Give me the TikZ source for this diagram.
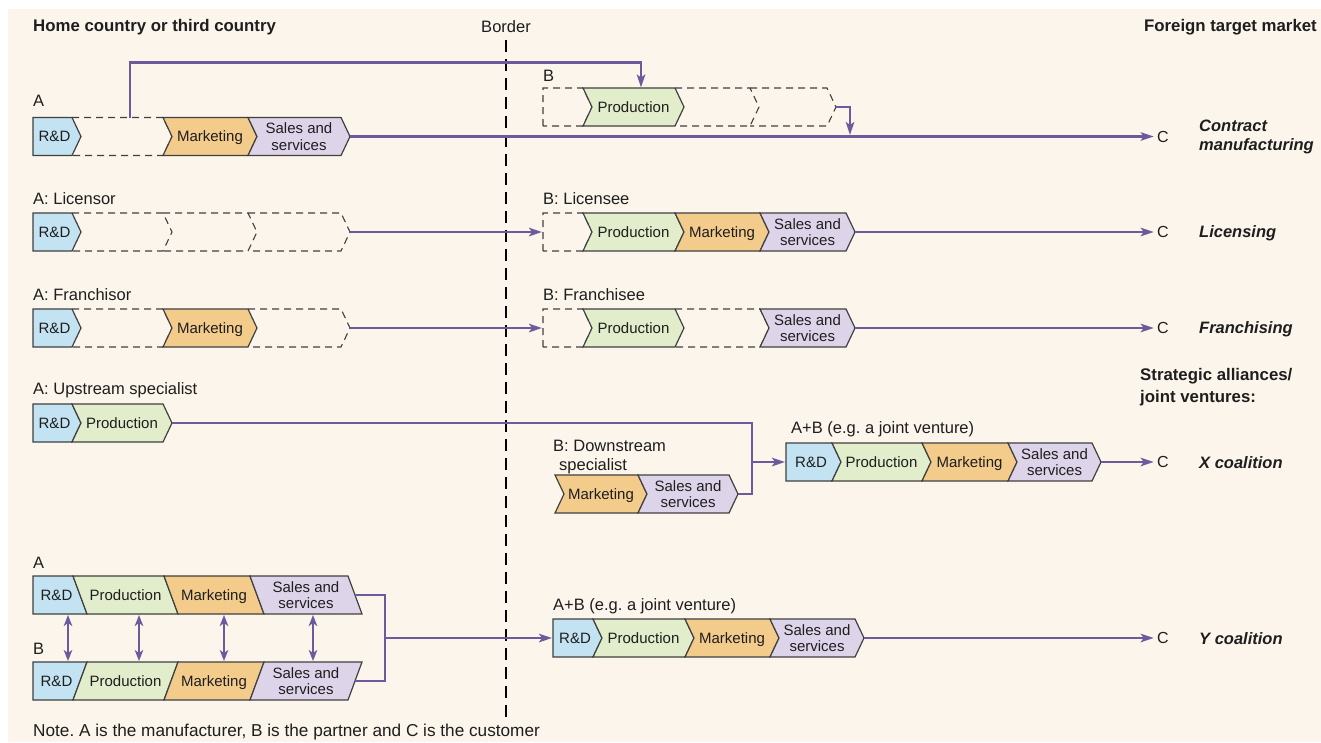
\documentclass[tikz,border=0pt]{standalone}
\usepackage{fontspec}
\setmainfont{Liberation Sans}
\usetikzlibrary{arrows.meta}
\frenchspacing

\definecolor{bgcream}{HTML}{FCF5EB}
\definecolor{rdblue}{HTML}{C3E3F2}
\definecolor{prodgreen}{HTML}{E2EECB}
\definecolor{mktorange}{HTML}{F3CC8C}
\definecolor{salepurple}{HTML}{DDD4EA}
\definecolor{flowpurple}{HTML}{6C5A9C}
\definecolor{edgegrey}{HTML}{404040}
\definecolor{inkgrey}{HTML}{1E1E1E}

\tikzset{
  segbox/.style={draw=edgegrey, line width=1.2pt, line join=miter},
  emptyseg/.style={draw=edgegrey, line width=1.1pt, dash pattern=on 7pt off 5pt},
  rd/.style={fill=rdblue},
  prod/.style={fill=prodgreen},
  mkt/.style={fill=mktorange},
  sale/.style={fill=salepurple},
  segtext/.style={font=\fontsize{15}{16.5}\selectfont, text=inkgrey, align=center, inner sep=0pt, text depth=0pt},
  lbl/.style={font=\fontsize{16.5}{19}\selectfont, text=inkgrey, anchor=base west, inner sep=0pt, align=left},
  head/.style={font=\fontsize{16.8}{22}\selectfont\bfseries, text=inkgrey, inner sep=0pt, align=left},
  mode/.style={font=\fontsize{16.5}{19.5}\selectfont\bfseries\itshape, text=inkgrey, anchor=west, inner sep=0pt, align=left},
  cust/.style={font=\fontsize{16}{19}\selectfont, text=inkgrey},
  flow/.style={draw=flowpurple, line width=2.3pt},
  tip/.style={-{Stealth[length=13pt,width=8.5pt,inset=3pt]}},
  twotip/.style={{Stealth[length=11pt,width=8.5pt,inset=3pt]}-{Stealth[length=11pt,width=8.5pt,inset=3pt]}},
  borderline/.style={draw=black, line width=2.4pt, dash pattern=on 12pt off 7pt},
}

% filled value-chain step: name, colour style, left x, right x, centre y,
% straight left edge (1) or notched (0), caption
\newcommand\fillseg[7]{%
  \ifnum#6=1
    \path[segbox,#2] (#3,#5-19) -- (#4,#5-19) -- (#4+9,#5) -- (#4,#5+19) -- (#3,#5+19) -- cycle;
    \node[segtext] (#1) at ({(#3+#4)/2+2},#5) {#7};
  \else
    \path[segbox,#2] (#3,#5-19) -- (#4,#5-19) -- (#4+9,#5) -- (#4,#5+19) -- (#3,#5+19) -- (#3+9,#5) -- cycle;
    \node[segtext] (#1) at ({(#3+#4+9)/2},#5) {#7};
  \fi}

% empty (dashed) step: left x, right x, centre y, closed left edge (1) or open (0)
\newcommand\blankseg[4]{%
  \ifnum#4=1
    \draw[emptyseg] (#1,#3+19) -- (#1,#3-19) -- (#2,#3-19) -- (#2+9,#3) -- (#2,#3+19) -- cycle;
  \else
    \draw[emptyseg] (#1,#3-19) -- (#2,#3-19) -- (#2+9,#3) -- (#2,#3+19) -- (#1,#3+19);
  \fi}

% slanted step of the Y coalition chains: name, colour, top-left x, bottom-left x,
% top-right x, bottom-right x, centre y, caption
\newcommand\slantseg[8]{%
  \path[segbox,#2] (#3,#7-19) -- (#5,#7-19) -- (#6,#7+19) -- (#4,#7+19) -- cycle;
  \node[segtext] (#1) at ({(#3+#4+#5+#6)/4},#7) {#8};}

\begin{document}
\begin{tikzpicture}[x=1pt,y=-1pt]
\useasboundingbox (0,0) rectangle (1321,742);
\fill[white] (0,0) rectangle (1321,742);
\fill[bgcream] (8,9) rectangle (1321,742);

% headings and the border
\node[head, anchor=west] (hhome) at (33,27) {Home country or third country};
\node[head, anchor=east] (hforeign) at (1317,27) {Foreign target market};
\node[font=\fontsize{16.5}{19}\selectfont, text=inkgrey, inner sep=0pt] (hborder) at (506,27) {Border};
\coordinate (bordertop) at (506,40);
\coordinate (borderfoot) at (506,723);
\draw[borderline] (bordertop) -- (borderfoot);

% ---------- contract manufacturing ----------
\node[lbl] (la1) at (33,106) {A};
\blankseg{72}{163}{136.5}{0}
\fillseg{a1rd}{rd}{33}{72}{136.5}{1}{R\&D}
\fillseg{a1mkt}{mkt}{163}{248}{136.5}{0}{Marketing}
\fillseg{a1sale}{sale}{248}{341}{136.5}{0}{Sales and\\services}
\coordinate (a1out) at (350,136.5);
\coordinate (a1up) at (130,117.5);

\node[lbl] (lb1) at (543,81) {B};
\blankseg{543}{583}{107}{1}
\blankseg{675}{750}{107}{0}
\blankseg{750}{827}{107}{0}
\fillseg{b1prod}{prod}{583}{675}{107}{0}{Production}
\coordinate (b1in) at (641,87.5);
\coordinate (b1out) at (836,107);
\coordinate (b1drop) at (850,135);

\node[cust] (c1) at (1163,136.5) {C};
\node[mode] (m1) at (1199,137) {Contract\\manufacturing};
\draw[flow,tip] (a1out) -- (c1);
\draw[flow,tip] (a1up) -- ++(0,-55) -| (b1in);
\draw[flow,tip] (b1out) -| (b1drop);

% ---------- licensing ----------
\node[lbl] (la2) at (33,204) {A: Licensor};
\blankseg{72}{163}{232}{0}
\blankseg{163}{248}{232}{0}
\blankseg{248}{341}{232}{0}
\fillseg{a2rd}{rd}{33}{72}{232}{1}{R\&D}
\coordinate (a2out) at (350,232);

\node[lbl] (lb2) at (543,204) {B: Licensee};
\blankseg{543}{583}{232}{1}
\fillseg{b2prod}{prod}{583}{675}{232}{0}{Production}
\fillseg{b2mkt}{mkt}{675}{760}{232}{0}{Marketing}
\fillseg{b2sale}{sale}{760}{846}{232}{0}{Sales and\\services}
\coordinate (b2in) at (542,232);
\coordinate (b2out) at (855,232);

\node[cust] (c2) at (1163,232) {C};
\node[mode] (m2) at (1199,233.5) {Licensing};
\draw[flow,tip] (a2out) -- (b2in);
\draw[flow,tip] (b2out) -- (c2);

% ---------- franchising ----------
\node[lbl] (la3) at (33,300) {A: Franchisor};
\blankseg{72}{163}{328}{0}
\blankseg{248}{341}{328}{0}
\fillseg{a3rd}{rd}{33}{72}{328}{1}{R\&D}
\fillseg{a3mkt}{mkt}{163}{248}{328}{0}{Marketing}
\coordinate (a3out) at (350,328);

\node[lbl] (lb3) at (543,300) {B: Franchisee};
\blankseg{543}{583}{328}{1}
\blankseg{675}{760}{328}{0}
\fillseg{b3prod}{prod}{583}{675}{328}{0}{Production}
\fillseg{b3sale}{sale}{760}{846}{328}{0}{Sales and\\services}
\coordinate (b3in) at (542,328);
\coordinate (b3out) at (855,328);

\node[cust] (c3) at (1163,328) {C};
\node[mode] (m3) at (1199,329.5) {Franchising};
\draw[flow,tip] (a3out) -- (b3in);
\draw[flow,tip] (b3out) -- (c3);

% ---------- X coalition ----------
\node[head, anchor=north west] (hsa) at (1140,368.5) {Strategic alliances/\\joint ventures:};

\node[lbl] (la4) at (33,394) {A: Upstream specialist};
\fillseg{a4rd}{rd}{33}{72}{423}{1}{R\&D}
\fillseg{a4prod}{prod}{72}{163}{423}{0}{Production}
\coordinate (a4out) at (172,423);

\node[lbl, anchor=north west] (lbd) at (553,440) {B: Downstream\\\hspace*{6pt}specialist};
\fillseg{bdmkt}{mkt}{555}{638}{494}{0}{Marketing}
\fillseg{bdsale}{sale}{638}{729}{494}{0}{Sales and\\services}
\coordinate (bdout) at (738,494);
\coordinate (xjoin) at (752,462);

\node[lbl] (lxab) at (791,433) {A+B (e.g. a joint venture)};
\fillseg{xrd}{rd}{786}{832}{462}{1}{R\&D}
\fillseg{xprod}{prod}{832}{922}{462}{0}{Production}
\fillseg{xmkt}{mkt}{922}{1008}{462}{0}{Marketing}
\fillseg{xsale}{sale}{1008}{1092}{462}{0}{Sales and\\services}
\coordinate (xin) at (785,462);
\coordinate (xout) at (1101,462);

\draw[flow] (a4out) -| (bdout -| xjoin) -- (bdout);
\draw[flow,tip] (xjoin) -- (xin);
\node[cust] (cx) at (1163,462) {C};
\node[mode] (mx) at (1199,463) {X coalition};
\draw[flow,tip] (xout) -- (cx);

% ---------- Y coalition ----------
\node[lbl] (lya) at (33,568) {A};
\slantseg{yard}{rd}{33}{33}{73}{87}{595}{R\&D}
\slantseg{yaprod}{prod}{73}{87}{164}{178}{595}{Production}
\slantseg{yamkt}{mkt}{164}{178}{250}{264}{595}{Marketing}
\slantseg{yasale}{sale}{250}{264}{348}{362}{595}{Sales and\\services}

\node[lbl] (lyb) at (33,654) {B};
\slantseg{ybrd}{rd}{33}{33}{87}{73}{681}{R\&D}
\slantseg{ybprod}{prod}{87}{73}{178}{164}{681}{Production}
\slantseg{ybmkt}{mkt}{178}{164}{264}{250}{681}{Marketing}
\slantseg{ybsale}{sale}{264}{250}{362}{348}{681}{Sales and\\services}

\foreach \k/\x in {1/68,2/139,3/224,4/313}{
  \coordinate (ya\k) at (\x,615);
  \coordinate (yb\k) at (\x,661);
  \draw[flow,twotip] (ya\k) -- (yb\k);
}

\coordinate (yaout) at (355,595);
\coordinate (ybout) at (355,681);
\coordinate (yjoin) at (385,638);
\coordinate (yin) at (552,638);
\draw[flow] (yaout) -| (yjoin |- ybout) -- (ybout);
\draw[flow,tip] (yjoin) -- (yin);

\node[lbl] (lyab) at (553,610) {A+B (e.g. a joint venture)};
\fillseg{yrd}{rd}{553}{593}{638}{1}{R\&D}
\fillseg{yprod}{prod}{593}{685}{638}{0}{Production}
\fillseg{ymkt}{mkt}{685}{770}{638}{0}{Marketing}
\fillseg{ysale}{sale}{770}{855}{638}{0}{Sales and\\services}
\coordinate (yout) at (864,638);

\node[cust] (cy) at (1163,638) {C};
\node[mode] (my) at (1199,639) {Y coalition};
\draw[flow,tip] (yout) -- (cy);

% footnote
\node[lbl, font=\fontsize{17.2}{19}\selectfont] (note) at (33,736) {Note. A is the manufacturer, B is the partner and C is the customer};
\end{tikzpicture}
\end{document}
